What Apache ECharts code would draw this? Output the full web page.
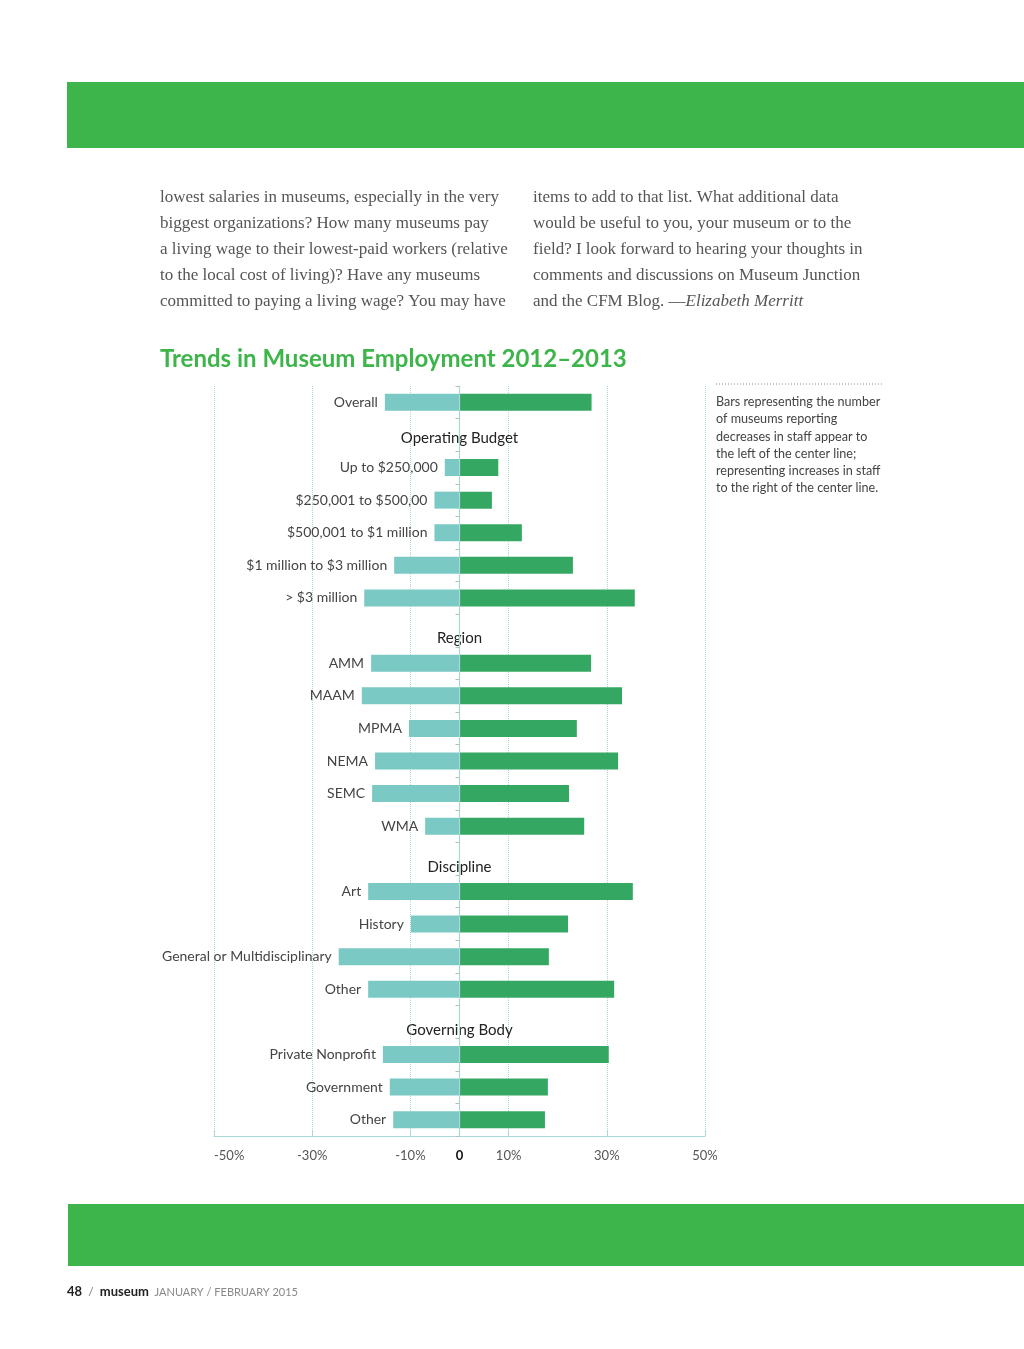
<!DOCTYPE html>
<html>
<head>
<meta charset="utf-8">
<script src="https://cdn.jsdelivr.net/npm/echarts@6/dist/echarts.min.js"></script>
<style>
html,body{margin:0;padding:0;background:#fff;}
#chart{width:1024px;height:1349px;}
</style>
</head>
<body>
<div id="chart"></div>
<script>
// ---------- data ----------
const categories = [
  'Overall',
  'Operating Budget',
  'Up to $250,000', '$250,001 to $500,00', '$500,001 to $1 million', '$1 million to $3 million', '> $3 million',
  'Region',
  'AMM', 'MAAM', 'MPMA', 'NEMA', 'SEMC', 'WMA',
  'Discipline',
  'Art', 'History', 'General or Multidisciplinary', 'Other',
  'Governing Body',
  'Private Nonprofit', 'Government', 'Other '
];
const sectionHeaders = ['Operating Budget', 'Region', 'Discipline', 'Governing Body'];
// % of museums reporting decreases in staff (left of center line)
const decreases = [
  -15.2,
  null,
  -3.0, -5.1, -5.1, -13.3, -19.4,
  null,
  -18.0, -19.9, -10.3, -17.2, -17.8, -7.0,
  null,
  -18.6, -9.9, -24.6, -18.6,
  null,
  -15.6, -14.2, -13.5
];
// % of museums reporting increases in staff (right of center line)
const increases = [
  26.9,
  null,
  7.9, 6.6, 12.7, 23.1, 35.7,
  null,
  26.8, 33.1, 23.9, 32.3, 22.3, 25.4,
  null,
  35.3, 22.1, 18.2, 31.5,
  null,
  30.4, 18.0, 17.4
];
const gridValues = [-50, -30, -10, 10, 30, 50];
const tickLabelValues = [-50, -30, -10, 0, 10, 30, 50];

const bodyLeft = [
  'lowest salaries in museums, especially in the very',
  'biggest organizations? How many museums pay',
  'a living wage to their lowest-paid workers (relative',
  'to the local cost of living)? Have any museums',
  'committed to paying a living wage? You may have'
];
const bodyRight = [
  'items to add to that list. What additional data',
  'would be useful to you, your museum or to the',
  'field? I look forward to hearing your thoughts in',
  'comments and discussions on Museum Junction',
  'and the CFM Blog. \u2014{i|Elizabeth Merritt}'
];
const noteLines = [
  'Bars representing the number',
  'of museums reporting',
  'decreases in staff appear to',
  'the left of the center line;',
  'representing increases in staff',
  'to the right of the center line.'
];
const title = 'Trends in Museum Employment 2012\u20132013';

// ---------- styles ----------
const GREEN = '#3db54a';
const BAR_GREEN = '#34a862';
const BAR_TEAL = '#7bc9c4';
const AXIS_TEAL = '#a9d9d4';
const SANS = 'Lato, "Open Sans", sans-serif';
const SERIF = '"Liberation Serif", serif';
const headerOffsetY = {'Operating Budget': 3};

const chart = echarts.init(document.getElementById('chart'), null, {renderer: 'canvas'});

const headerData = categories.map(c => sectionHeaders.includes(c) ? {
  value: 0,
  label: {
    show: true, position: 'inside', formatter: c.trim(),
    color: '#222', fontSize: 15, fontFamily: SANS,
    offset: [0, headerOffsetY[c] !== undefined ? headerOffsetY[c] : 8]
  }
} : null);

const option = {
  backgroundColor: '#ffffff',
  animation: false,
  grid: {left: 214, right: 319, top: 386, bottom: 213, containLabel: false},
  xAxis: {
    type: 'value', min: -50, max: 50, interval: 10,
    axisLine: {show: true, onZero: false, lineStyle: {color: AXIS_TEAL, width: 1.2}},
    axisTick: {show: true, inside: true, length: 5, customValues: gridValues, lineStyle: {color: AXIS_TEAL}},
    splitLine: {show: false},
    axisLabel: {
      customValues: tickLabelValues,
      alignMinLabel: 'left',
      margin: 13,
      color: '#555', fontSize: 13, fontFamily: SANS,
      formatter: v => v === 0 ? '{z|0}' : v + '%',
      rich: {z: {fontWeight: 'bold', color: '#111', fontSize: 13, fontFamily: SANS}}
    }
  },
  yAxis: {
    type: 'category', data: categories, inverse: true,
    axisLine: {show: true, onZero: true, lineStyle: {color: AXIS_TEAL, width: 1.2}},
    axisTick: {show: true, length: 4, lineStyle: {color: '#bbb'}},
    axisLabel: {show: false},
    z: 10
  },
  series: [
    {
      name: 'Grid', type: 'line', data: [], z: 0,
      markLine: {
        silent: true, symbol: 'none', label: {show: false}, z: 0,
        lineStyle: {color: AXIS_TEAL, type: 'dotted', width: 1},
        data: gridValues.map(v => ({xAxis: v}))
      }
    },
    {
      name: 'Decrease', type: 'bar', data: decreases,
      barWidth: 17, barGap: '-100%',
      itemStyle: {color: BAR_TEAL},
      label: {
        show: true, position: 'left', distance: 7,
        formatter: p => p.name.trim(),
        color: '#444', fontSize: 14, fontFamily: SANS
      },
      z: 2
    },
    {
      name: 'Increase', type: 'bar', data: increases,
      barWidth: 17, barGap: '-100%',
      itemStyle: {color: BAR_GREEN},
      z: 2
    },
    {
      name: 'Headers', type: 'bar', data: headerData,
      barWidth: 17, barGap: '-100%',
      itemStyle: {color: 'transparent'},
      z: 3
    }
  ],
  graphic: [
    {type: 'rect', shape: {x: 67, y: 82, width: 957, height: 66}, style: {fill: GREEN}, silent: true},
    {type: 'rect', shape: {x: 68, y: 1204, width: 956, height: 62}, style: {fill: GREEN}, silent: true},
    {
      type: 'text', x: 160, y: 185,
      style: {
        text: bodyLeft.join('\n'), fill: '#555', font: '17px ' + SERIF,
        lineHeight: 26, verticalAlign: 'top'
      }
    },
    {
      type: 'text', x: 533, y: 185,
      style: {
        text: bodyRight.join('\n'), fill: '#555', font: '17px ' + SERIF,
        lineHeight: 26, verticalAlign: 'top',
        rich: {i: {fontStyle: 'italic', fontFamily: SERIF, fontSize: 17, fill: '#555', lineHeight: 26}}
      }
    },
    {
      type: 'text', x: 160, y: 359,
      style: {text: title, fill: GREEN, font: 'bold 24px ' + SANS, verticalAlign: 'middle'}
    },
    {
      type: 'line', shape: {x1: 716, y1: 384, x2: 884, y2: 384},
      style: {stroke: '#888', lineWidth: 1, lineDash: [1, 2]}
    },
    {
      type: 'text', x: 716, y: 393.5,
      style: {
        text: noteLines.join('\n'), fill: '#444', font: '12.6px ' + SANS,
        lineHeight: 17.2, verticalAlign: 'top'
      }
    },
    {
      type: 'text', x: 67, y: 1292,
      style: {
        text: '{b|48}{s|  /  }{b|museum}{g|  JANUARY / FEBRUARY 2015}',
        verticalAlign: 'middle',
        rich: {
          b: {fontWeight: 'bold', fontSize: 13, fontFamily: SANS, fill: '#222'},
          s: {fontSize: 12, fontFamily: SANS, fill: '#777'},
          g: {fontSize: 11, fontFamily: SANS, fill: '#888'}
        }
      }
    }
  ]
};
chart.setOption(option);
</script>
</body>
</html>
